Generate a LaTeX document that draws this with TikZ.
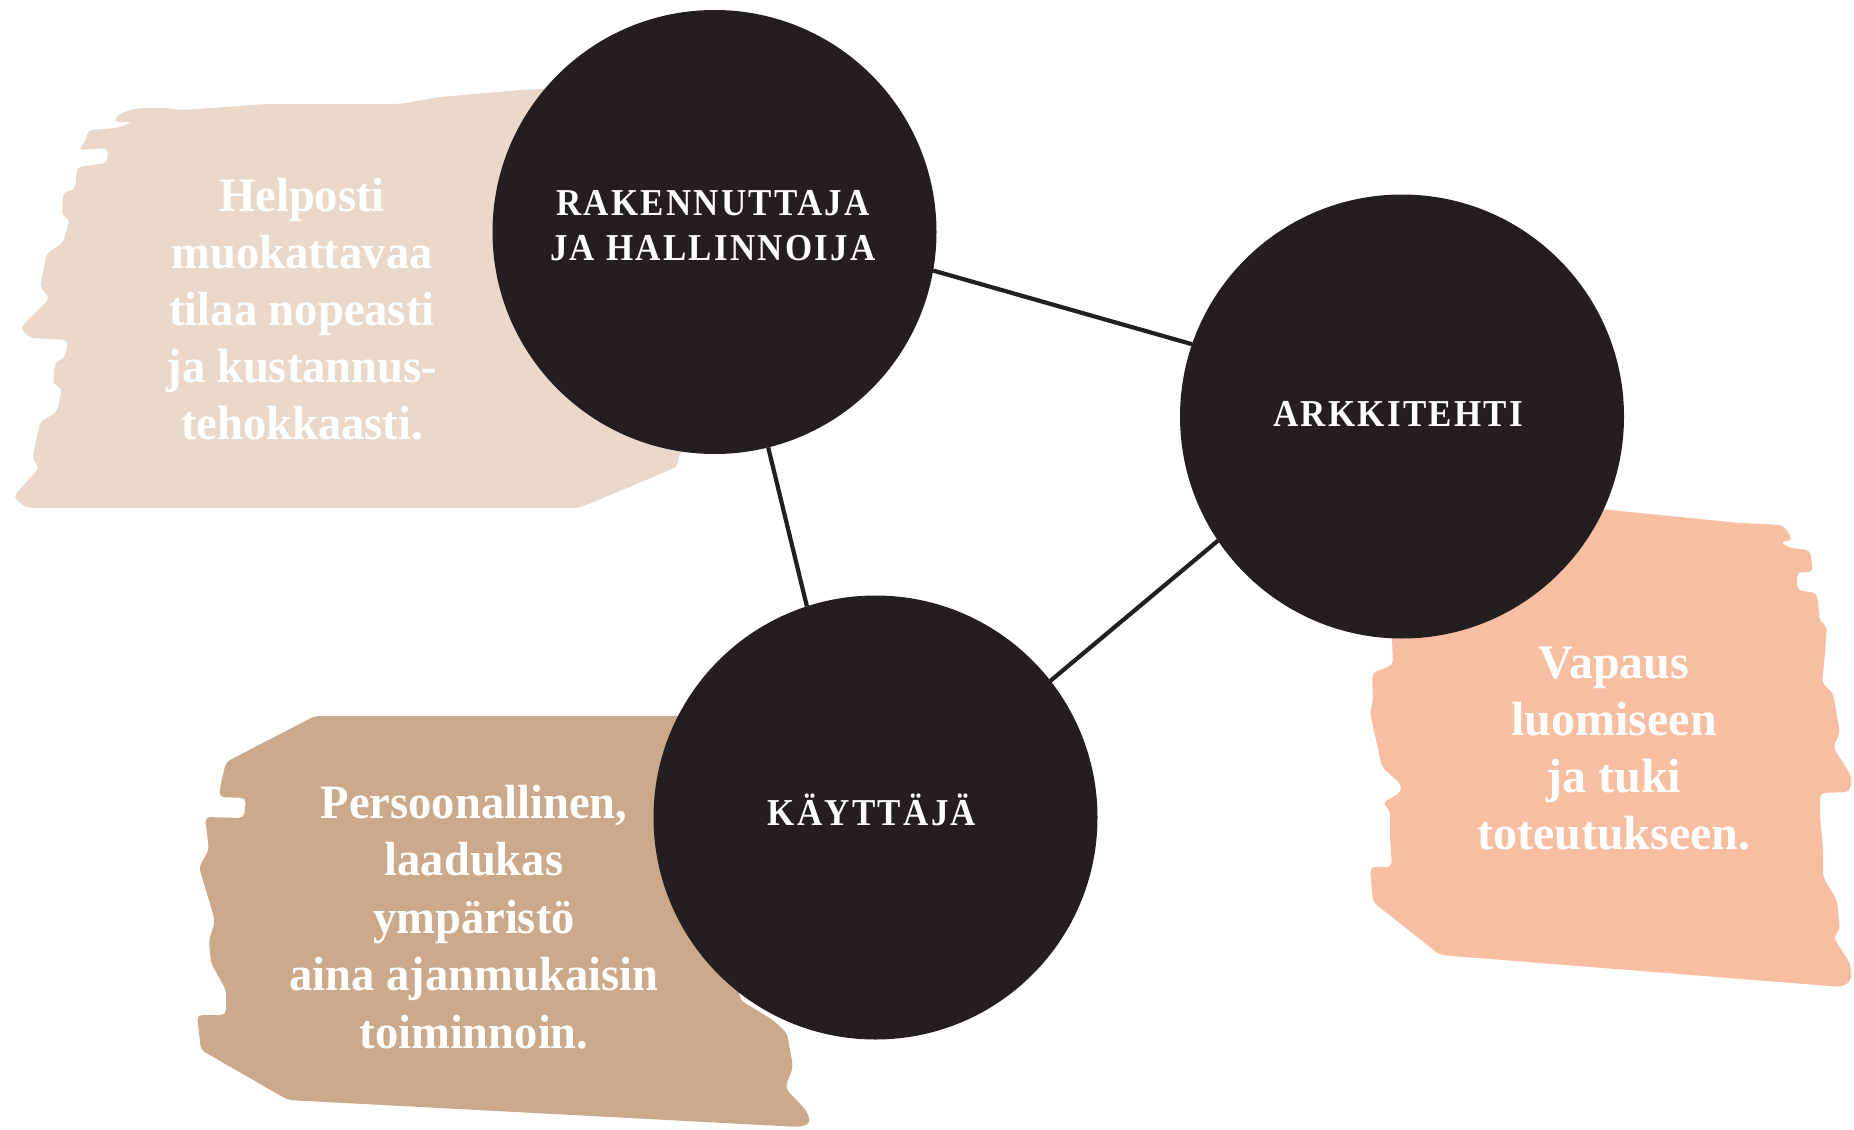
\documentclass[tikz,border=0pt]{standalone}
\usepackage{fontspec}
\setmainfont{Liberation Serif}[FakeStretch=0.97]
\newfontfamily\widefont{Liberation Serif}
\newfontfamily\labelfont{Liberation Serif}[LetterSpace=6,FakeStretch=0.92]
\definecolor{dark}{HTML}{231F20}
\definecolor{pale}{HTML}{EAD9CB}
\definecolor{tan}{HTML}{CBA98A}
\definecolor{peach}{HTML}{F8BEA1}
\tikzset{
  circ/.style={circle,fill=dark,minimum size=444pt,inner sep=0pt,outer sep=0pt},
  link/.style={draw=dark,line width=4.2pt},
  blob/.style={rounded corners=5pt},
  circlabel/.style={anchor=base,inner sep=0pt,text=white,font=\labelfont\bfseries\fontsize{38}{45}\selectfont},
  blobtext/.style={anchor=base,inner sep=0pt,text=white,font=\bfseries\fontsize{48}{57}\selectfont}
}
\begin{document}
\begin{tikzpicture}[x=1pt,y=-1pt]
\useasboundingbox (0,0) rectangle (1854,1129);
% pale blob (left top)
\fill[pale,blob] (113,122) .. controls (122,110) and (140,105) .. (183,110) -- (267,104) -- (400,104) -- (440,97) -- (520,90) -- (560,88) -- (700,88) -- (700,440) -- (680,452) -- (677,467) -- (579,508) -- (27,508) -- (13,497) -- (40,467) -- (32,460) -- (40,422) -- (57,412) -- (62,387) -- (53,385) -- (55,362) -- (65,358) -- (68,340) -- (30,338) -- (20,328) -- (50,298) -- (40,287) -- (47,253) -- (63,243) -- (70,218) -- (62,217) -- (63,192) -- (75,190) -- (77,167) -- (107,163) -- (108,148) -- (78,150) -- (85,142) -- (88,130) -- (117,128) -- (133,122) -- cycle;
% tan blob (left bottom)
\fill[tan,blob] (315,716) -- (720,716) -- (740,1000) -- (773,1020) -- (787,1033) -- (793,1067) -- (785,1088) -- (806,1110) -- (811,1123) -- (800,1127) -- (288,1100) -- (201,1050) -- (197,1015) -- (226,1015) -- (226,990) -- (211,963) -- (209,940) -- (215,922) -- (211,907) -- (199,867) -- (209,850) -- (205,817) -- (244,818) -- (246,798) -- (219,797) -- (221,783) -- (226,762) -- cycle;
% peach blob (right)
\fill[peach,blob] (1590,508) -- (1740,523) -- (1783,525) -- (1793,540) -- (1780,542) -- (1790,548) -- (1810,550) -- (1813,572) -- (1797,572) -- (1797,590) -- (1817,593) -- (1820,623) -- (1827,625) -- (1825,653) -- (1822,683) -- (1833,693) -- (1840,733) -- (1833,747) -- (1852,777) -- (1850,792) -- (1820,793) -- (1820,817) -- (1823,847) -- (1823,877) -- (1837,900) -- (1840,930) -- (1833,937) -- (1850,963) -- (1852,980) -- (1842,987) -- (1440,955) -- (1373,902) -- (1370,867) -- (1392,867) -- (1390,837) -- (1390,810) -- (1382,803) -- (1400,793) -- (1402,785) -- (1393,777) -- (1382,767) -- (1370,713) -- (1373,700) -- (1372,673) -- (1393,665) -- (1392,640) -- (1390,600) -- (1450,560) -- cycle;
% circles
\node[circ] (rak) at (714.5,232) {};
\node[circ] (ark) at (1402,416.5) {};
\node[circ] (kay) at (875.5,817.5) {};
% connectors
\draw[link] (rak.-10.2) -- (ark.161);
\draw[link] (rak.-76.5) -- (kay.108);
\draw[link] (ark.214.6) -- (kay.38.9);
% circle labels
\node[circlabel] (rakl) at (713,215) {\parbox[t]{420pt}{\centering RAKENNUTTAJA\\JA HALLINNOIJA}};
\node[circlabel] (arkl) at (1398,426.7) {ARKKITEHTI};
\node[circlabel] (kayl) at (872,825) {KÄYTTÄJÄ};
% blob texts
\node[blobtext] (t1) at (302,211.7) {\parbox[t]{520pt}{\centering\fontsize{48}{57}\selectfont Helposti\\muokattavaa\\tilaa nopeasti\\ja kustannus-\\tehokkaasti.}};
\node[blobtext] (t2) at (474,818) {\parbox[t]{520pt}{\centering\fontsize{48}{57.5}\selectfont Persoonallinen,\\laadukas\\ympäristö\\aina ajanmukaisin\\toiminnoin.}};
\node[blobtext] (t3) at (1614,678) {\parbox[t]{520pt}{\centering\widefont\bfseries\fontsize{48}{57.3}\selectfont Vapaus\\luomiseen\\ja tuki\\toteutukseen.}};
\end{tikzpicture}
\end{document}
